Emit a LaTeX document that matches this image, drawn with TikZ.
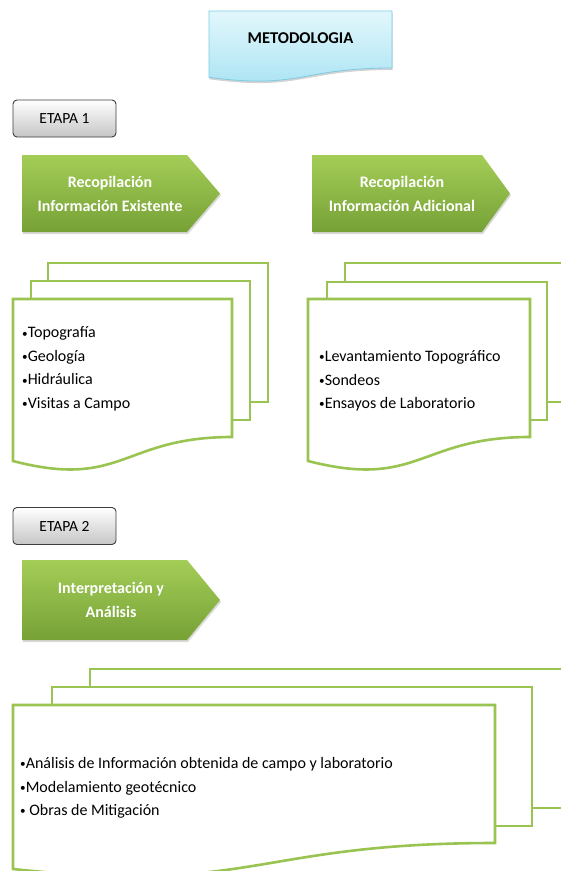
\documentclass[tikz,border=0pt]{standalone}
\usepackage{fontspec}
\setmainfont{Carlito}
\usetikzlibrary{positioning,shadows}
\definecolor{hojaverde}{HTML}{9AC451}
\definecolor{verdeclaro}{HTML}{A4CD57}
\definecolor{verdeoscuro}{HTML}{76A136}
\definecolor{celesteclaro}{HTML}{E2F7FC}
\definecolor{celeste}{HTML}{A9E3F3}
\definecolor{bordeceleste}{HTML}{7CCBE3}
\definecolor{bordegris}{HTML}{3C3C3C}
\newcommand\vineta{\raisebox{0.12ex}{\scalebox{0.7}{•}}}
\tikzset{
  titulo/.style={draw=bordeceleste, line width=0.8pt, top color=celesteclaro, bottom color=celeste,
    drop shadow={opacity=0.35, shadow xshift=0.5pt, shadow yshift=-2pt}},
  etapa/.style={draw=bordegris, line width=0.9pt, rounded corners=4pt, top color=white, bottom color=gray!45,
    minimum width=103pt, minimum height=37pt, font=\fontsize{15.5}{17}\selectfont},
  flecha/.style={top color=verdeclaro, bottom color=verdeoscuro,
    drop shadow={opacity=0.3, shadow xshift=1pt, shadow yshift=-2pt}},
  textoflecha/.style={text=white, align=center, font=\bfseries\fontsize{16}{24.5}\selectfont},
  hoja/.style={draw=hojaverde, line width=2.6pt, fill=white, line join=miter},
  lista/.style={anchor=west, align=left, inner sep=0pt, font=\fontsize{16}{23.5}\selectfont}
}
\begin{document}
\begin{tikzpicture}[x=1pt,y=-1pt]
  \clip (0,0) rectangle (561,871);
  % titulo
  \path[titulo] (209,11) -- (392,11) -- (392,68)
    .. controls (300.5,68) and (300.5,89.6) .. (209,77.3) -- cycle;
  \node[font=\bfseries\fontsize{16.5}{18}\selectfont] (met) at (300.5,38) {METODOLOGIA};

  % etapa 1
  \node[etapa] (et1) at (64.5,118.5) {ETAPA 1};
  \path[flecha] (22,155) -- (187,155) -- (220,193.5) -- (187,232) -- (22,232) -- cycle;
  \node[textoflecha] (rie) at (110,194) {Recopilación\\Información Existente};
  \path[flecha] (312,155) -- (482,155) -- (510,193.5) -- (482,232) -- (312,232) -- cycle;
  \node[textoflecha] (ria) at (402,194) {Recopilación\\Información Adicional};

  % hojas etapa 1
  \draw[hoja] (48,263) rectangle (268,402);
  \draw[hoja] (31,281) rectangle (250,420);
  \draw[hoja] (13,299) -- (232,299) -- (232,437)
    .. controls (122.5,437) and (122.5,489.5) .. (13,461) -- cycle;
  \node[lista] (l1) at (22,369) {\vineta Topografía\\\vineta Geología\\\vineta Hidráulica\\\vineta Visitas a Campo};

  \draw[hoja] (345,263) rectangle (600,402);
  \draw[hoja] (327,282) rectangle (547,420);
  \draw[hoja] (308,299) -- (530,299) -- (530,437)
    .. controls (419,437) and (419,489.5) .. (308,461) -- cycle;
  \node[lista] (l2) at (319,381) {\vineta Levantamiento Topográfico\\\vineta Sondeos\\\vineta Ensayos de Laboratorio};

  % etapa 2
  \node[etapa] (et2) at (64.5,526) {ETAPA 2};
  \path[flecha] (22,560) -- (187,560) -- (220,600) -- (187,640) -- (22,640) -- cycle;
  \node[textoflecha] (ia) at (111,600) {Interpretación y\\Análisis};

  % hojas etapa 2
  \draw[hoja] (90,669) rectangle (620,808);
  \draw[hoja] (52,687) rectangle (532,826);
  \draw[hoja] (13,705) -- (495,705) -- (495,843)
    .. controls (254,843) and (254,895) .. (13,869) -- cycle;
  \node[lista] (l3) at (20,788) {\vineta Análisis de Información obtenida de campo y laboratorio\\\vineta Modelamiento geotécnico\\\vineta\ Obras de Mitigación};
\end{tikzpicture}
\end{document}
